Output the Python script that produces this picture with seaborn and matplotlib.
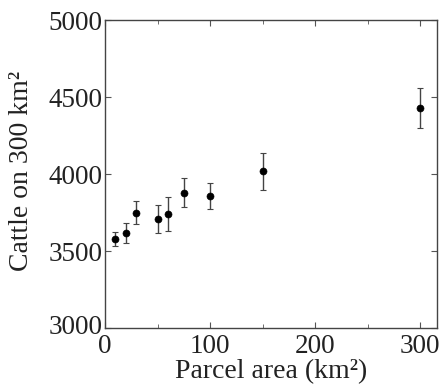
import numpy as np
import pandas as pd
import matplotlib
matplotlib.use("Agg")
import matplotlib.pyplot as plt
import matplotlib.transforms as mtransforms
import seaborn as sns

parcel_area = [10, 20, 30, 50, 60, 75, 100, 150, 300]
cattle = [3580, 3620, 3750, 3710, 3740, 3880, 3860, 4020, 4430]
cattle_err = [45, 65, 75, 90, 110, 95, 85, 120, 130]

df = pd.DataFrame({"area": parcel_area, "cattle": cattle, "err": cattle_err})

sns.set_style("ticks")
plt.rcParams['font.family'] = ['Liberation Serif', 'DejaVu Serif']

fig = plt.figure(figsize=(4.41, 3.87), dpi=100)
ax = fig.add_axes([0.238, 0.152, 0.753, 0.796])

ax.errorbar(df["area"], df["cattle"], yerr=df["err"], fmt="none",
            ecolor="#444444", elinewidth=1.0, capsize=2.5, capthick=0.8)
sns.scatterplot(data=df, x="area", y="cattle", ax=ax, color="black",
                s=26, edgecolor="black", zorder=3)

ax.set_xlim(0, 316)
ax.set_ylim(3000, 5000)
ax.set_xticks([0, 100, 200, 300])
ax.set_xticks([50, 150, 250], minor=True)
ax.set_yticks([3000, 3500, 4000, 4500, 5000])
ax.tick_params(direction="in", which="both", top=True, right=True,
               labelsize=19.5, length=4, color="#555555", pad=2,
               labelcolor="#222222")
ax.tick_params(axis="x", which="major", pad=4)
ax.tick_params(which="minor", length=3)
for s in ax.spines.values():
    s.set_color("#444444")
    s.set_linewidth(1.0)

# lift the bottom y label a little so it clears the x "0"
lab = ax.get_yticklabels()[0]
lab.set_transform(lab.get_transform() + mtransforms.ScaledTranslation(0, 3 / 72, fig.dpi_scale_trans))

ax.set_xlabel("Parcel area (km²)", fontsize=20, labelpad=0, color="#222222")
ax.set_ylabel("Cattle on 300 km²", fontsize=20, color="#222222")
ax.yaxis.set_label_coords(-0.215, 0.51)

fig.savefig("out.png", dpi=100)
